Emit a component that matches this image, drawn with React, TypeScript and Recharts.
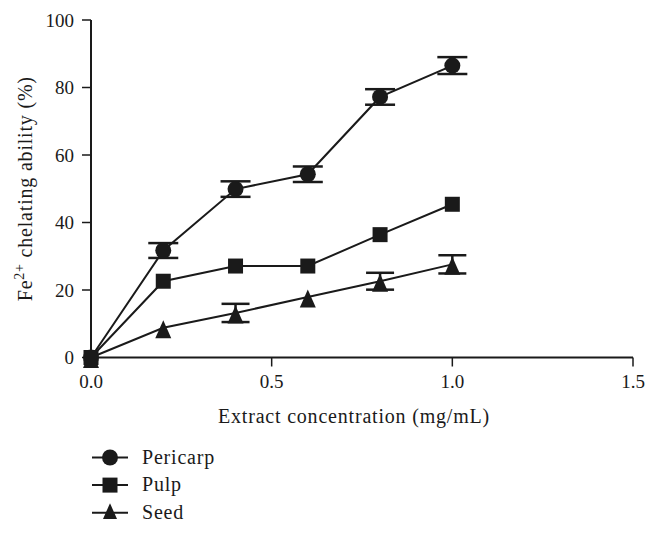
import React from 'react'
import {
    LineChart,
    Line,
    XAxis,
    YAxis,
    ErrorBar,
    Legend
} from "recharts"

const concentrations = [0, 0.2, 0.4, 0.6, 0.8, 1.0]
const pericarp = [0, 31.7, 49.9, 54.3, 77.2, 86.5]
const pericarpErr = [0, 2.2, 2.3, 2.3, 2.3, 2.5]
const pulp = [0, 22.6, 27.1, 27.1, 36.4, 45.4]
const pulpErr = [0, 0, 0, 0, 0, 0]
const seed = [0, 8.8, 13.2, 17.9, 22.6, 27.6]
const seedErr = [0, 0, 2.7, 0, 2.5, 2.7]

const xTicks = [0, 0.5, 1.0, 1.5]
const yTicks = [0, 20, 40, 60, 80, 100]

const seriesNames = ['Pericarp', 'Pulp', 'Seed']

const data = concentrations.map((c, i) => ({
    conc: c,
    pericarp: pericarp[i],
    pericarpErr: pericarpErr[i],
    pulp: pulp[i],
    pulpErr: pulpErr[i],
    seed: seed[i],
    seedErr: seedErr[i]
}))

const FONT = "'Liberation Serif', 'DejaVu Serif'"
const INK = '#1a1a1a'

function Marker({ kind, cx, cy }: { kind: string, cx: number, cy: number }) {
    if (kind === 'circle') {
        return <circle cx={cx} cy={cy} r={8} fill={INK} />
    }
    if (kind === 'square') {
        return <rect x={cx - 7.5} y={cy - 7.5} width={15} height={15} fill={INK} />
    }
    return <polygon points={`${cx},${cy - 7.5} ${cx + 8},${cy + 10.5} ${cx - 8},${cy + 10.5}`} fill={INK} />
}

const dotFor = (kind: string) => (props: any) => (
    <Marker key={`${kind}-${props.index}`} kind={kind} cx={props.cx} cy={props.cy} />
)

const markerKinds = ['circle', 'square', 'triangle']

function LegendBox() {
    return (
        <div style={{ height: 75, overflow: 'hidden' }}>
            <svg width={200} height={90}>
                {seriesNames.map((name, i) => {
                    const cy = 13.5 + i * 27.6
                    return (
                        <g key={name}>
                            <line x1={7} x2={43} y1={cy} y2={cy} stroke={INK} strokeWidth={2} />
                            <Marker kind={markerKinds[i]} cx={25} cy={i === 2 ? cy - 2 : cy} />
                            <text
                            x={57}
                            y={cy + 6}
                            style={{ fontFamily: FONT, fontSize: 20, letterSpacing: 0.8 }}
                            fill={INK}
                            >
                                {name}
                            </text>
                        </g>
                    )
                })}
            </svg>
        </div>
    )
}

const YTitle = (props: any) => {
    const vb = props.viewBox
    const cx = 32
    const cy = vb.y + vb.height / 2
    return (
        <text
        x={cx}
        y={cy}
        transform={`rotate(-90, ${cx}, ${cy})`}
        textAnchor="middle"
        style={{ fontFamily: FONT, fontSize: 20, letterSpacing: 0.8 }}
        fill={INK}
        >
            <tspan>Fe</tspan>
            <tspan dy={-8} style={{ fontSize: 14 }}>2+</tspan>
            <tspan dy={8}>{'\u00a0chelating ability (%)'}</tspan>
        </text>
    )
}

const XTitle = (props: any) => {
    const vb = props.viewBox
    return (
        <text
        x={vb.x + vb.width / 2 - 8}
        y={423}
        textAnchor="middle"
        style={{ fontFamily: FONT, fontSize: 20, letterSpacing: 0.8 }}
        fill={INK}
        >
            Extract concentration (mg/mL)
        </text>
    )
}

export default function App() {
    const tickStyle = { fontFamily: FONT, fontSize: 19, fill: INK }
    return (
        <div style={{ position: 'absolute', left: 0, top: 0, background: '#fff', fontFamily: FONT }}>
            <LineChart
            width={658}
            height={533}
            data={data}
            margin={{ top: 20, right: 25, left: 31, bottom: 95.5 }}
            >
                <XAxis
                dataKey="conc"
                type="number"
                domain={[0, 1.5]}
                ticks={xTicks}
                tickFormatter={(v: number) => v.toFixed(1)}
                tick={tickStyle}
                tickSize={9}
                tickMargin={8}
                height={80}
                axisLine={{ stroke: INK, strokeWidth: 2 }}
                tickLine={{ stroke: INK, strokeWidth: 1.5 }}
                label={{ content: XTitle }}
                />
                <YAxis
                type="number"
                domain={[0, 100]}
                ticks={yTicks}
                tick={tickStyle}
                tickSize={9}
                tickMargin={8}
                width={60}
                axisLine={{ stroke: INK, strokeWidth: 2 }}
                tickLine={{ stroke: INK, strokeWidth: 1.5 }}
                label={{ content: YTitle }}
                />
                <Legend
                layout="horizontal"
                verticalAlign="middle"
                align="center"
                content={<LegendBox />}
                wrapperStyle={{ left: 85, top: 444, width: 200, height: 75 }}
                />
                <Line
                dataKey="pericarp"
                name="Pericarp"
                stroke={INK}
                strokeWidth={2}
                dot={dotFor('circle')}
                isAnimationActive={false}
                >
                    <ErrorBar dataKey="pericarpErr" direction="y" width={15} stroke={INK} strokeWidth={2.5} />
                </Line>
                <Line
                dataKey="seed"
                name="Seed"
                stroke={INK}
                strokeWidth={2}
                dot={dotFor('triangle')}
                isAnimationActive={false}
                >
                    <ErrorBar dataKey="seedErr" direction="y" width={14} stroke={INK} strokeWidth={2.5} />
                </Line>
                <Line
                dataKey="pulp"
                name="Pulp"
                stroke={INK}
                strokeWidth={2}
                dot={dotFor('square')}
                isAnimationActive={false}
                >
                    <ErrorBar dataKey="pulpErr" direction="y" width={15} stroke={INK} strokeWidth={2.5} />
                </Line>
            </LineChart>
        </div>
    )
}
